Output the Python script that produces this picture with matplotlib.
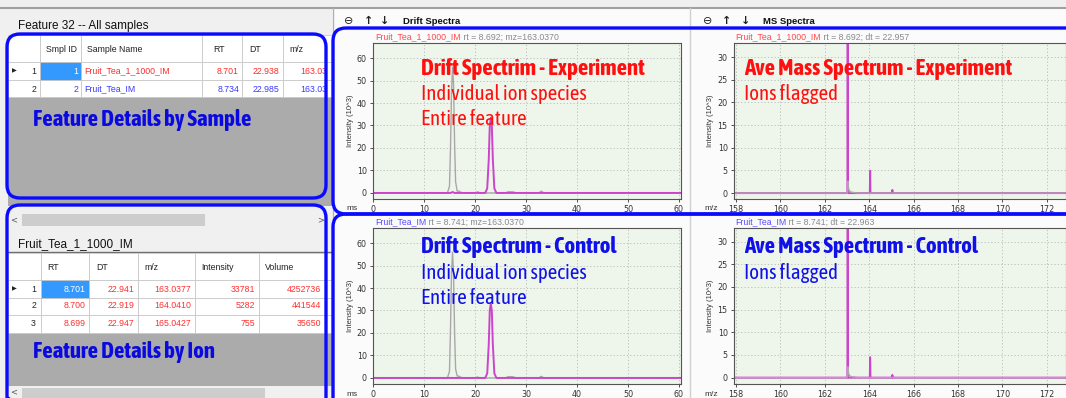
import matplotlib
matplotlib.use("Agg")
import matplotlib.pyplot as plt
from matplotlib.patches import Rectangle, FancyBboxPatch
from matplotlib import font_manager

W, H = 1066, 398

# ---------------- data ----------------
sample_cols = ["Smpl ID", "Sample Name", "RT", "DT", "m/z"]
sample_ids = [1, 2]
sample_names = ["Fruit_Tea_1_1000_IM", "Fruit_Tea_IM"]
sample_rt = ["8.701", "8.734"]
sample_dt = ["22.938", "22.985"]
sample_mz = ["163.03", "163.03"]          # column is cut off in the view

ion_cols = ["RT", "DT", "m/z", "Intensity", "Volume"]
ion_rt = ["8.701", "8.700", "8.699"]
ion_dt = ["22.941", "22.919", "22.947"]
ion_mz = ["163.0377", "164.0410", "165.0427"]
ion_int = ["33781", "5282", "755"]
ion_vol = ["4252736", "441544", "35650"]

# drift spectra, ms vs intensity (10^3)
drift_exp_gray_x = [0, 14.6, 15.0, 15.2, 15.4, 15.6, 15.8, 16.0, 16.2, 16.5, 16.8, 17.2, 17.6,
                    20.0, 20.5, 21.0, 26.0, 26.5, 27.5, 28.0, 32.5, 33.0, 33.5, 60.4]
drift_exp_gray_y = [0, 0, 3, 20, 45, 56, 48, 22, 5, 0.8, 0.9, 0.3, 0,
                    0, 0.5, 0, 0, 0.5, 0.5, 0, 0, 0.8, 0, 0]
drift_exp_ion_x = [0, 15.2, 15.6, 16.0, 22.0, 22.4, 22.7, 22.9, 23.1, 23.3, 23.5, 23.8, 24.2, 60.4]
drift_exp_ion_y = [0, 0, 0.4, 0, 0, 2, 15, 30, 33.5, 30, 15, 2, 0, 0]

drift_ctl_gray_x = [0, 14.6, 15.0, 15.2, 15.4, 15.6, 15.8, 16.0, 16.2, 16.5, 16.8, 17.2, 17.6,
                    20.0, 20.5, 21.0, 26.0, 26.5, 27.5, 28.0, 32.5, 33.0, 33.5, 60.4]
drift_ctl_gray_y = [0, 0, 3, 22, 47, 56, 46, 20, 4, 0.9, 0.8, 0.3, 0,
                    0, 0.4, 0, 0, 0.6, 0.5, 0, 0, 0.7, 0, 0]
drift_ctl_ion_x = [0, 22.0, 22.4, 22.7, 22.9, 23.1, 23.3, 23.5, 23.8, 24.2, 60.4]
drift_ctl_ion_y = [0, 0, 2, 15, 30, 33.2, 30, 15, 2, 0, 0]

# averaged mass spectra, m/z vs intensity (10^3)
ms_exp_ion_x = [157.9, 163.015, 163.03, 163.045, 164.025, 164.04, 164.055, 165.03, 165.04, 165.05, 172.9]
ms_exp_ion_y = [0, 0, 33.8, 0, 0, 4.9, 0, 0, 0.7, 0, 0]
ms_exp_gray_x = [157.9, 163.02, 163.04, 163.07, 163.12, 163.2, 163.35, 163.5, 172.9]
ms_exp_gray_y = [0, 0, 2.6, 1.0, 0.4, 0.2, 0.1, 0, 0]

ms_ctl_ion_x = [157.9, 163.015, 163.03, 163.045, 164.025, 164.04, 164.055, 165.03, 165.04, 165.05, 172.9]
ms_ctl_ion_y = [0, 0, 33.8, 0, 0, 4.5, 0, 0, 0.6, 0, 0]
ms_ctl_gray_x = [157.9, 163.02, 163.04, 163.07, 163.12, 163.2, 163.35, 163.5, 172.9]
ms_ctl_gray_y = [0, 0, 2.4, 0.9, 0.4, 0.2, 0.1, 0, 0]

# ---------------- fonts ----------------
# call-outs are in a condensed face; take one that also has a bold cut
def _w(v):
    return font_manager.weight_dict.get(v, 400) if isinstance(v, str) else v


bold_faces, reg_faces = set(), set()
for f in font_manager.fontManager.ttflist:
    narrow = "Narrow" in f.name or "Condensed" in f.name or f.stretch in ("condensed", "semi-condensed")
    if not narrow or f.style != "normal":
        continue
    key = (f.name, f.stretch)
    if _w(f.weight) >= 600:
        bold_faces.add(key)
    elif _w(f.weight) >= 400:
        reg_faces.add(key)
both = sorted(bold_faces & reg_faces)
if both:
    NARROW, STRETCH = both[0]
else:
    NARROW, STRETCH = "Roboto", "normal"
UI = "Liberation Sans"

RED = "#ff1010"
BLUE = "#1010e8"
BOX = "#0a0aff"
PLOT_BG = "#eef6ec"

fig = plt.figure(figsize=(W / 100, H / 100), dpi=100)
renderer = fig.canvas.get_renderer()


def px_axes(x0, y0, x1, y1, z=1):
    return fig.add_axes([x0 / W, 1 - y1 / H, (x1 - x0) / W, (y1 - y0) / H], zorder=z)


bg = px_axes(0, 0, W, H, z=0)
bg.set_xlim(0, W)
bg.set_ylim(H, 0)
bg.axis("off")

ov = px_axes(0, 0, W, H, z=5)
ov.set_xlim(0, W)
ov.set_ylim(H, 0)
ov.axis("off")
ov.patch.set_alpha(0)


def rect(ax, x0, y0, x1, y1, fc, ec="none", lw=0.6, z=1):
    ax.add_patch(Rectangle((x0, y0), x1 - x0, y1 - y0, fc=fc, ec=ec, lw=lw, zorder=z))


def fit_text(ax, x, y, s, width, color, bold=False):
    # size the call-out so it spans the same width as in the screenshot
    t = ax.text(x, y, s, fontsize=10, family=NARROW, fontstretch=STRETCH,
                weight="bold" if bold else "normal", color=color, va="baseline", zorder=7)
    w = t.get_window_extent(renderer).width
    t.set_fontsize(min(16.5 if bold else 15, 10 * width / w))
    return t


# ---------------- left panel ----------------
rect(bg, 0, 0, 332, H, "#f0f0f0")
bg.plot([0, 332], [8, 8], color="#a0a0a0", lw=1.5, zorder=2)
bg.text(18, 26, "Feature 32 -- All samples", fontsize=8.5, family=UI, va="center", color="#111")

# top table
top_edges = [8, 40, 81, 202, 242, 283, 332]
rect(bg, 8, 97, 332, 206, "#ababab", z=1)
rect(bg, 8, 35, 332, 97, "white", z=1)
for i in range(len(top_edges) - 1):
    for y0, y1 in [(35, 62), (62, 80), (80, 97)]:
        rect(bg, top_edges[i], y0, top_edges[i + 1], y1, "white", ec="#c8c8c8", z=2)
rect(bg, 40, 62, 81, 80, "#3399ff", ec="#c8c8c8", z=3)
hdr_x = [46, 87, 213, 249, 289]
for x, lab in zip(hdr_x, sample_cols):
    bg.text(x, 49, lab, fontsize=6.3, family=UI, va="center", color="#222", zorder=4)
for r, yc in enumerate([71, 89]):
    col = "#ff2a2a" if r == 0 else "#3a3aff"
    if r == 0:
        bg.text(14, yc, "\u25b6", fontsize=4.5, va="center", ha="center", color="#222", zorder=4)
    bg.text(36, yc, str(r + 1), fontsize=6.3, family=UI, va="center", ha="right", color="#222", zorder=4)
    bg.text(78, yc, str(sample_ids[r]), fontsize=6.3, family=UI, va="center", ha="right",
            color="white" if r == 0 else col, zorder=4)
    bg.text(84, yc, sample_names[r], fontsize=6.3, family=UI, va="center", color=col, zorder=4)
    bg.text(239, yc, sample_rt[r], fontsize=6.3, family=UI, va="center", ha="right", color=col, zorder=4)
    bg.text(279, yc, sample_dt[r], fontsize=6.3, family=UI, va="center", ha="right", color=col, zorder=4)
    bg.text(327, yc, sample_mz[r], fontsize=6.3, family=UI, va="center", ha="right", color=col, zorder=4)

# scrollbar
rect(bg, 8, 212, 332, 227, "#f0f0f0", z=2)
rect(bg, 22, 214, 205, 226, "#cdcdcd", z=3)
bg.text(14, 220, "<", fontsize=6, va="center", ha="center", color="#555", zorder=4)
bg.text(321, 220, ">", fontsize=6, va="center", ha="center", color="#555", zorder=4)

bg.text(18, 244, "Fruit_Tea_1_1000_IM", fontsize=8.5, family=UI, va="center", color="#111")
bg.plot([8, 332], [252, 252], color="#707070", lw=1, zorder=2)

# bottom table
bot_edges = [8, 41, 89, 138, 195, 259, 332]
rect(bg, 8, 333, 332, 386, "#ababab", z=1)
for i in range(len(bot_edges) - 1):
    for y0, y1 in [(253, 280), (280, 298), (298, 315), (315, 333)]:
        rect(bg, bot_edges[i], y0, bot_edges[i + 1], y1, "white", ec="#c8c8c8", z=2)
rect(bg, 41, 280, 89, 298, "#3399ff", ec="#c8c8c8", z=3)
for x, lab in zip([47, 96, 144, 201, 265], ion_cols):
    bg.text(x, 267, lab, fontsize=6.3, family=UI, va="center", color="#222", zorder=4)
for r, yc in enumerate([289, 306, 324]):
    if r == 0:
        bg.text(14, yc, "\u25b6", fontsize=4.5, va="center", ha="center", color="#222", zorder=4)
    bg.text(36, yc, str(r + 1), fontsize=6.3, family=UI, va="center", ha="right", color="#222", zorder=4)
    vals = [ion_rt[r], ion_dt[r], ion_mz[r], ion_int[r], ion_vol[r]]
    for j, (x, v) in enumerate(zip([86, 134, 191, 255, 321], vals)):
        c = "white" if (r == 0 and j == 0) else "#ff3030"
        bg.text(x, yc, v, fontsize=6.3, family=UI, va="center", ha="right", color=c, zorder=4)

rect(bg, 8, 386, 332, 398, "#f0f0f0", z=2)
rect(bg, 22, 388, 265, 398, "#cdcdcd", z=3)
bg.text(14, 392, "<", fontsize=6, va="center", ha="center", color="#555", zorder=4)

# ---------------- right panel chrome ----------------
rect(bg, 332, 0, W, H, "#fbfbfb")
rect(bg, 332, 0, W, 8, "#f0f0f0", z=2)
bg.plot([332, W], [8, 8], color="#a0a0a0", lw=1.5, zorder=3)
bg.plot([333, 333], [8, H], color="#b0b0b0", lw=1, zorder=3)
bg.plot([690, 690], [8, H], color="#d0d0d0", lw=1, zorder=3)
for xs, title in [((349, 369, 385, 403), "Drift Spectra"), ((708, 727, 746, 763), "MS Spectra")]:
    bg.text(xs[0], 21, "\u2296", fontsize=8, ha="center", va="center", color="#222", zorder=4)
    bg.text(xs[1], 21, "\u2191", fontsize=8, ha="center", va="center", color="#222",
            weight="bold", zorder=4)
    bg.text(xs[2], 21, "\u2193", fontsize=8, ha="center", va="center", color="#222",
            weight="bold", zorder=4)
    bg.text(xs[3], 22, title, fontsize=6.8, family=UI, weight="bold", va="center", color="#111", zorder=4)


# ---------------- spectra ----------------
def spectrum(box, xlim, ylim, xticks, yticks, lines):
    ax = px_axes(*box)
    ax.set_facecolor(PLOT_BG)
    for xs, ys, c, lw in lines:
        ax.plot(xs, ys, color=c, lw=lw)
    ax.set_xlim(*xlim)
    ax.set_ylim(*ylim)
    ax.set_xticks(xticks)
    ax.set_yticks(yticks)
    ax.grid(True, ls=(0, (1.5, 2.5)), color="#b8b8b8", lw=0.6)
    ax.tick_params(labelsize=5.8, length=2.5, pad=2, colors="#333", width=0.6)
    for s in ax.spines.values():
        s.set_color("#555")
        s.set_linewidth(0.8)
    return ax


GRAY = "#a8a8a8"
MAG = "#cc44cc"
spectrum((373, 43, 681, 199), (0, 60.4), (-2.7, 66.7), range(0, 61, 10), range(0, 61, 10),
         [(drift_exp_gray_x, drift_exp_gray_y, GRAY, 1.0), (drift_exp_ion_x, drift_exp_ion_y, MAG, 1.4)])
spectrum((373, 228, 681, 384), (0, 60.4), (-2.7, 66.7), range(0, 61, 10), range(0, 61, 10),
         [(drift_ctl_gray_x, drift_ctl_gray_y, GRAY, 1.0), (drift_ctl_ion_x, drift_ctl_ion_y, MAG, 1.4)])
spectrum((734, 43, W, 199), (157.91, 172.86), (-1.3, 33.1), range(158, 173, 2), range(0, 31, 5),
         [(ms_exp_ion_x, ms_exp_ion_y, MAG, 1.4), (ms_exp_gray_x, ms_exp_gray_y, GRAY, 1.0)])
spectrum((734, 228, W, 384), (157.91, 172.86), (-1.4, 33.0), range(158, 173, 2), range(0, 31, 5),
         [(ms_ctl_ion_x, ms_ctl_ion_y, MAG, 1.4), (ms_ctl_gray_x, ms_ctl_gray_y, GRAY, 1.0)])

for x in (351, 711):
    for y in (121, 306):
        bg.text(x, y, "Intensity (10^3)", rotation=90, fontsize=5.5, family=UI,
                ha="center", va="center", color="#333")
for y in (208, 394):
    bg.text(352, y, "ms", fontsize=6, family=UI, ha="center", va="center", color="#333")
    bg.text(711, y, "m/z", fontsize=6, family=UI, ha="center", va="center", color="#333")

# spectrum header lines: sample name + rt info
heads = [(375, 37, "Fruit_Tea_1_1000_IM", "#ff4a4a", " rt = 8.692; mz=163.0370"),
         (735, 37, "Fruit_Tea_1_1000_IM", "#ff4a4a", " rt = 8.692; dt = 22.957"),
         (375, 222, "Fruit_Tea_IM", "#5a4aff", " rt = 8.741; mz=163.0370"),
         (735, 222, "Fruit_Tea_IM", "#5a4aff", " rt = 8.741; dt = 22.963")]
for x, y, name, c, info in heads:
    t = bg.text(x, y, name, fontsize=6.3, family=UI, va="center", color=c, zorder=4)
    bg.annotate(info, xy=(1, 0), xycoords=t, va="bottom", fontsize=6.3, family=UI,
                color="#8a8a8a", zorder=4)

# ---------------- call-out text and boxes ----------------
# (x, baseline, text, width in px, bold, colour)
callouts = [
    (421, 75, "Drift Spectrim - Experiment", 236, True, RED),
    (421, 100, "Individual ion species", 179, False, RED),
    (421, 125, "Entire feature", 112, False, RED),
    (421, 253, "Drift Spectrum - Control", 206, True, BLUE),
    (421, 279, "Individual ion species", 179, False, BLUE),
    (421, 304, "Entire feature", 112, False, BLUE),
    (744, 75, "Ave Mass Spectrum - Experiment", 289, True, RED),
    (744, 100, "Ions flagged", 102, False, RED),
    (744, 253, "Ave Mass Spectrum - Control", 253, True, BLUE),
    (744, 279, "Ions flagged", 102, False, BLUE),
    (33, 126, "Feature Details by Sample", 257, True, "#0a0ae0"),
    (33, 358, "Feature Details by Ion", 214, True, "#0a0ae0"),
]
for x, y, s, w, b, c in callouts:
    fit_text(ov, x, y, s, w, c, bold=b)

for x0, y0, x1, y1 in [(7, 34, 326, 198), (7, 205, 326, 410), (333, 28, 1080, 214), (333, 214, 1080, 420)]:
    ov.add_patch(FancyBboxPatch((x0, y0), x1 - x0, y1 - y0, boxstyle="round,pad=0,rounding_size=13",
                                fc="none", ec=BOX, lw=2.4, zorder=6, clip_on=False))

fig.savefig("out.png", dpi=100)
